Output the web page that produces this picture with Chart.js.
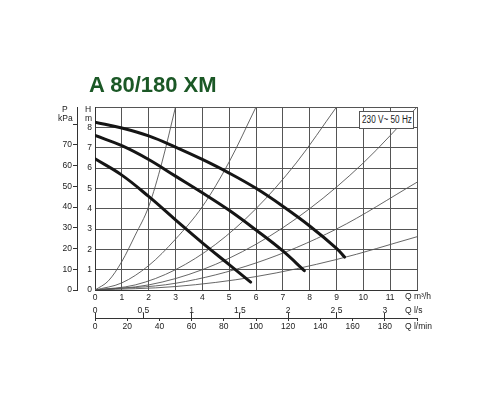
<!DOCTYPE html>
<html><head><meta charset="utf-8">
<script src="https://cdn.jsdelivr.net/npm/chart.js@4.4.0/dist/chart.umd.min.js"></script>
<style>
html,body{margin:0;padding:0;background:#fff;width:500px;height:400px;overflow:hidden;}
#wrap{position:relative;width:500px;height:400px;}
canvas{position:absolute;left:0;top:0;}
.t{position:absolute;font-family:"Liberation Sans",Arial,sans-serif;color:#222;font-size:8.5px;line-height:1;white-space:nowrap;}
#title{position:absolute;left:89px;top:74px;font-family:"Liberation Sans",Arial,sans-serif;font-weight:bold;font-size:22px;color:#1b5826;line-height:1;white-space:nowrap;}
#box{position:absolute;left:359px;top:111px;width:53px;height:16px;border:1px solid #555;background:#fff;font-family:"Liberation Sans",Arial,sans-serif;font-size:10px;line-height:16px;color:#222;white-space:nowrap;}
#box span{position:absolute;left:50%;top:0;transform:translateX(-50%) scaleX(0.82);}
</style></head>
<body>
<div id="wrap">
<canvas id="c" width="500" height="400"></canvas>
<div id="title">A 80/180 XM</div>
<div class="t" style="left:62px;top:105px;">P</div>
<div class="t" style="left:58px;top:114px;">kPa</div>
<div class="t" style="left:85px;top:105px;">H</div>
<div class="t" style="left:85px;top:114px;">m</div>
<div class="t" style="left:405px;top:292px;">Q m³/h</div>
<div class="t" style="left:405px;top:306px;">Q l/s</div>
<div class="t" style="left:405px;top:322px;">Q l/min</div>
<div id="box"><span>230 V~ 50 Hz</span></div>
</div>
<script>
// ---- data (Q in m3/h, H in m) ----
const pump1Q = [0, 1, 2, 3, 4, 5, 6, 7, 8, 9, 9.3];
const pump1H = [8.25, 7.97, 7.58, 7.03, 6.42, 5.75, 5.0, 4.12, 3.15, 2.05, 1.62];
const pump2Q = [0, 1, 2, 3, 4, 5, 6, 7, 7.8];
const pump2H = [7.6, 7.1, 6.42, 5.6, 4.78, 3.92, 2.95, 1.92, 0.95];
const pump3Q = [0, 1, 2, 3, 4, 5, 5.8];
const pump3H = [6.45, 5.65, 4.6, 3.45, 2.32, 1.25, 0.39];

const sysAQ = [0, 0.5, 1, 1.5, 2, 2.5, 3];
const sysAH = [0, 0.45, 1.4, 2.7, 4.1, 6.3, 9];
const sysBQ = [0, 1, 2, 3, 4, 5, 6];
const sysBH = [0, 0.35, 1.2, 2.5, 4.1, 6.3, 9];
const sysCQ = [0, 1.5, 3, 4.5, 6, 7.5, 9];
const sysCH = [0, 0.25, 1.0, 2.25, 4.0, 6.25, 9];
const sysDQ = [0, 2, 4, 6, 8, 10, 12];
const sysDH = [0, 0.25, 1.0, 2.25, 4.0, 6.25, 9];
const sysEQ = [0, 3, 6, 9, 12];
const sysEH = [0, 0.33, 1.33, 3.0, 5.3];
const sysFQ = [0, 3, 6, 9, 12];
const sysFH = [0, 0.17, 0.66, 1.5, 2.62];

// ---- tick labels ----
const m3hLabels = ['0','1','2','3','4','5','6','7','8','9','10','11',''];
const hLabels = ['0','1','2','3','4','5','6','7','8',''];
const kpaLabels = ['0','10','20','30','40','50','60','70',''];
const lsLabels = ['0','0,5','1','1,5','2','2,5','3'];
const lminLabels = ['0','20','40','60','80','100','120','140','160','180'];

const FONT = {family:'"Liberation Sans", Arial, sans-serif', size:8.5};
const TXT = '#222';

function pts(qs, hs){ return qs.map((q,i)=>({x:q, y:hs[i]})); }
function thin(qs, hs){ return {data:pts(qs,hs), borderColor:'#555', borderWidth:0.9, pointRadius:0, showLine:true, fill:false, cubicInterpolationMode:'monotone', order:2}; }
function thick(qs, hs){ return {data:pts(qs,hs), borderColor:'#151515', borderWidth:3, pointRadius:0, showLine:true, fill:false, tension:0.4, borderCapStyle:'round', order:1}; }

new Chart(document.getElementById('c'), {
  type:'scatter',
  data:{datasets:[
    thin(sysAQ,sysAH), thin(sysBQ,sysBH), thin(sysCQ,sysCH),
    thin(sysDQ,sysDH), thin(sysEQ,sysEH), thin(sysFQ,sysFH),
    thick(pump1Q,pump1H), thick(pump2Q,pump2H), thick(pump3Q,pump3H)
  ]},
  options:{
    responsive:false, animation:false, devicePixelRatio:1,
    layout:{padding:{left:50, right:83, top:107, bottom:68}},
    plugins:{legend:{display:false}, tooltip:{enabled:false}},
    scales:{
      x:{type:'linear', position:'bottom', min:0, max:12, weight:0,
        ticks:{stepSize:1, padding:3, font:FONT, color:TXT, autoSkip:false, maxRotation:0,
          callback:(v,i)=> m3hLabels[i] ?? ''},
        grid:{color:'#555', lineWidth:1, drawTicks:false},
        border:{color:'#333', width:1},
        afterFit:s=>{s.height=13;}
      },
      xls:{type:'linear', position:'bottom', min:0, max:12/3.6, weight:1,
        ticks:{stepSize:0.5, includeBounds:false, padding:-12, font:FONT, color:TXT, autoSkip:false, maxRotation:0,
          callback:(v,i)=> lsLabels[i] ?? ''},
        grid:{drawOnChartArea:false, drawTicks:true, tickLength:15, tickColor:'#333', tickBorderDash:[0,10,5,0]},
        border:{display:false},
        afterFit:s=>{s.height=15;}
      },
      xmin:{type:'linear', position:'bottom', min:0, max:200, weight:2,
        ticks:{stepSize:20, includeBounds:false, padding:1, font:FONT, color:TXT, autoSkip:false, maxRotation:0,
          callback:(v,i)=> lminLabels[i] ?? ''},
        grid:{drawOnChartArea:false, drawTicks:true, tickLength:3, tickColor:'#333'},
        border:{display:true, color:'#333', width:1, dash:[300,100]},
        afterFit:s=>{s.height=14;}
      },
      y:{type:'linear', position:'left', min:0, max:9, weight:0,
        ticks:{stepSize:1, padding:3, font:FONT, color:TXT, autoSkip:false,
          callback:(v,i)=> hLabels[i] ?? ''},
        grid:{color:'#555', lineWidth:1, drawTicks:false},
        border:{color:'#333', width:1},
        afterFit:s=>{s.width=18;}
      },
      kpa:{type:'linear', position:'left', min:0, max:9*9.80665, weight:1,
        ticks:{stepSize:10, includeBounds:false, padding:1, font:FONT, color:TXT, autoSkip:false,
          callback:(v,i)=> kpaLabels[i] ?? ''},
        grid:{drawOnChartArea:false, drawTicks:true, tickLength:4, tickColor:'#333'},
        border:{display:true, color:'#333', width:1, dash:[0,18,1000,0]},
        afterFit:s=>{s.width=27;}
      }
    }
  }
});
</script>
</body></html>
